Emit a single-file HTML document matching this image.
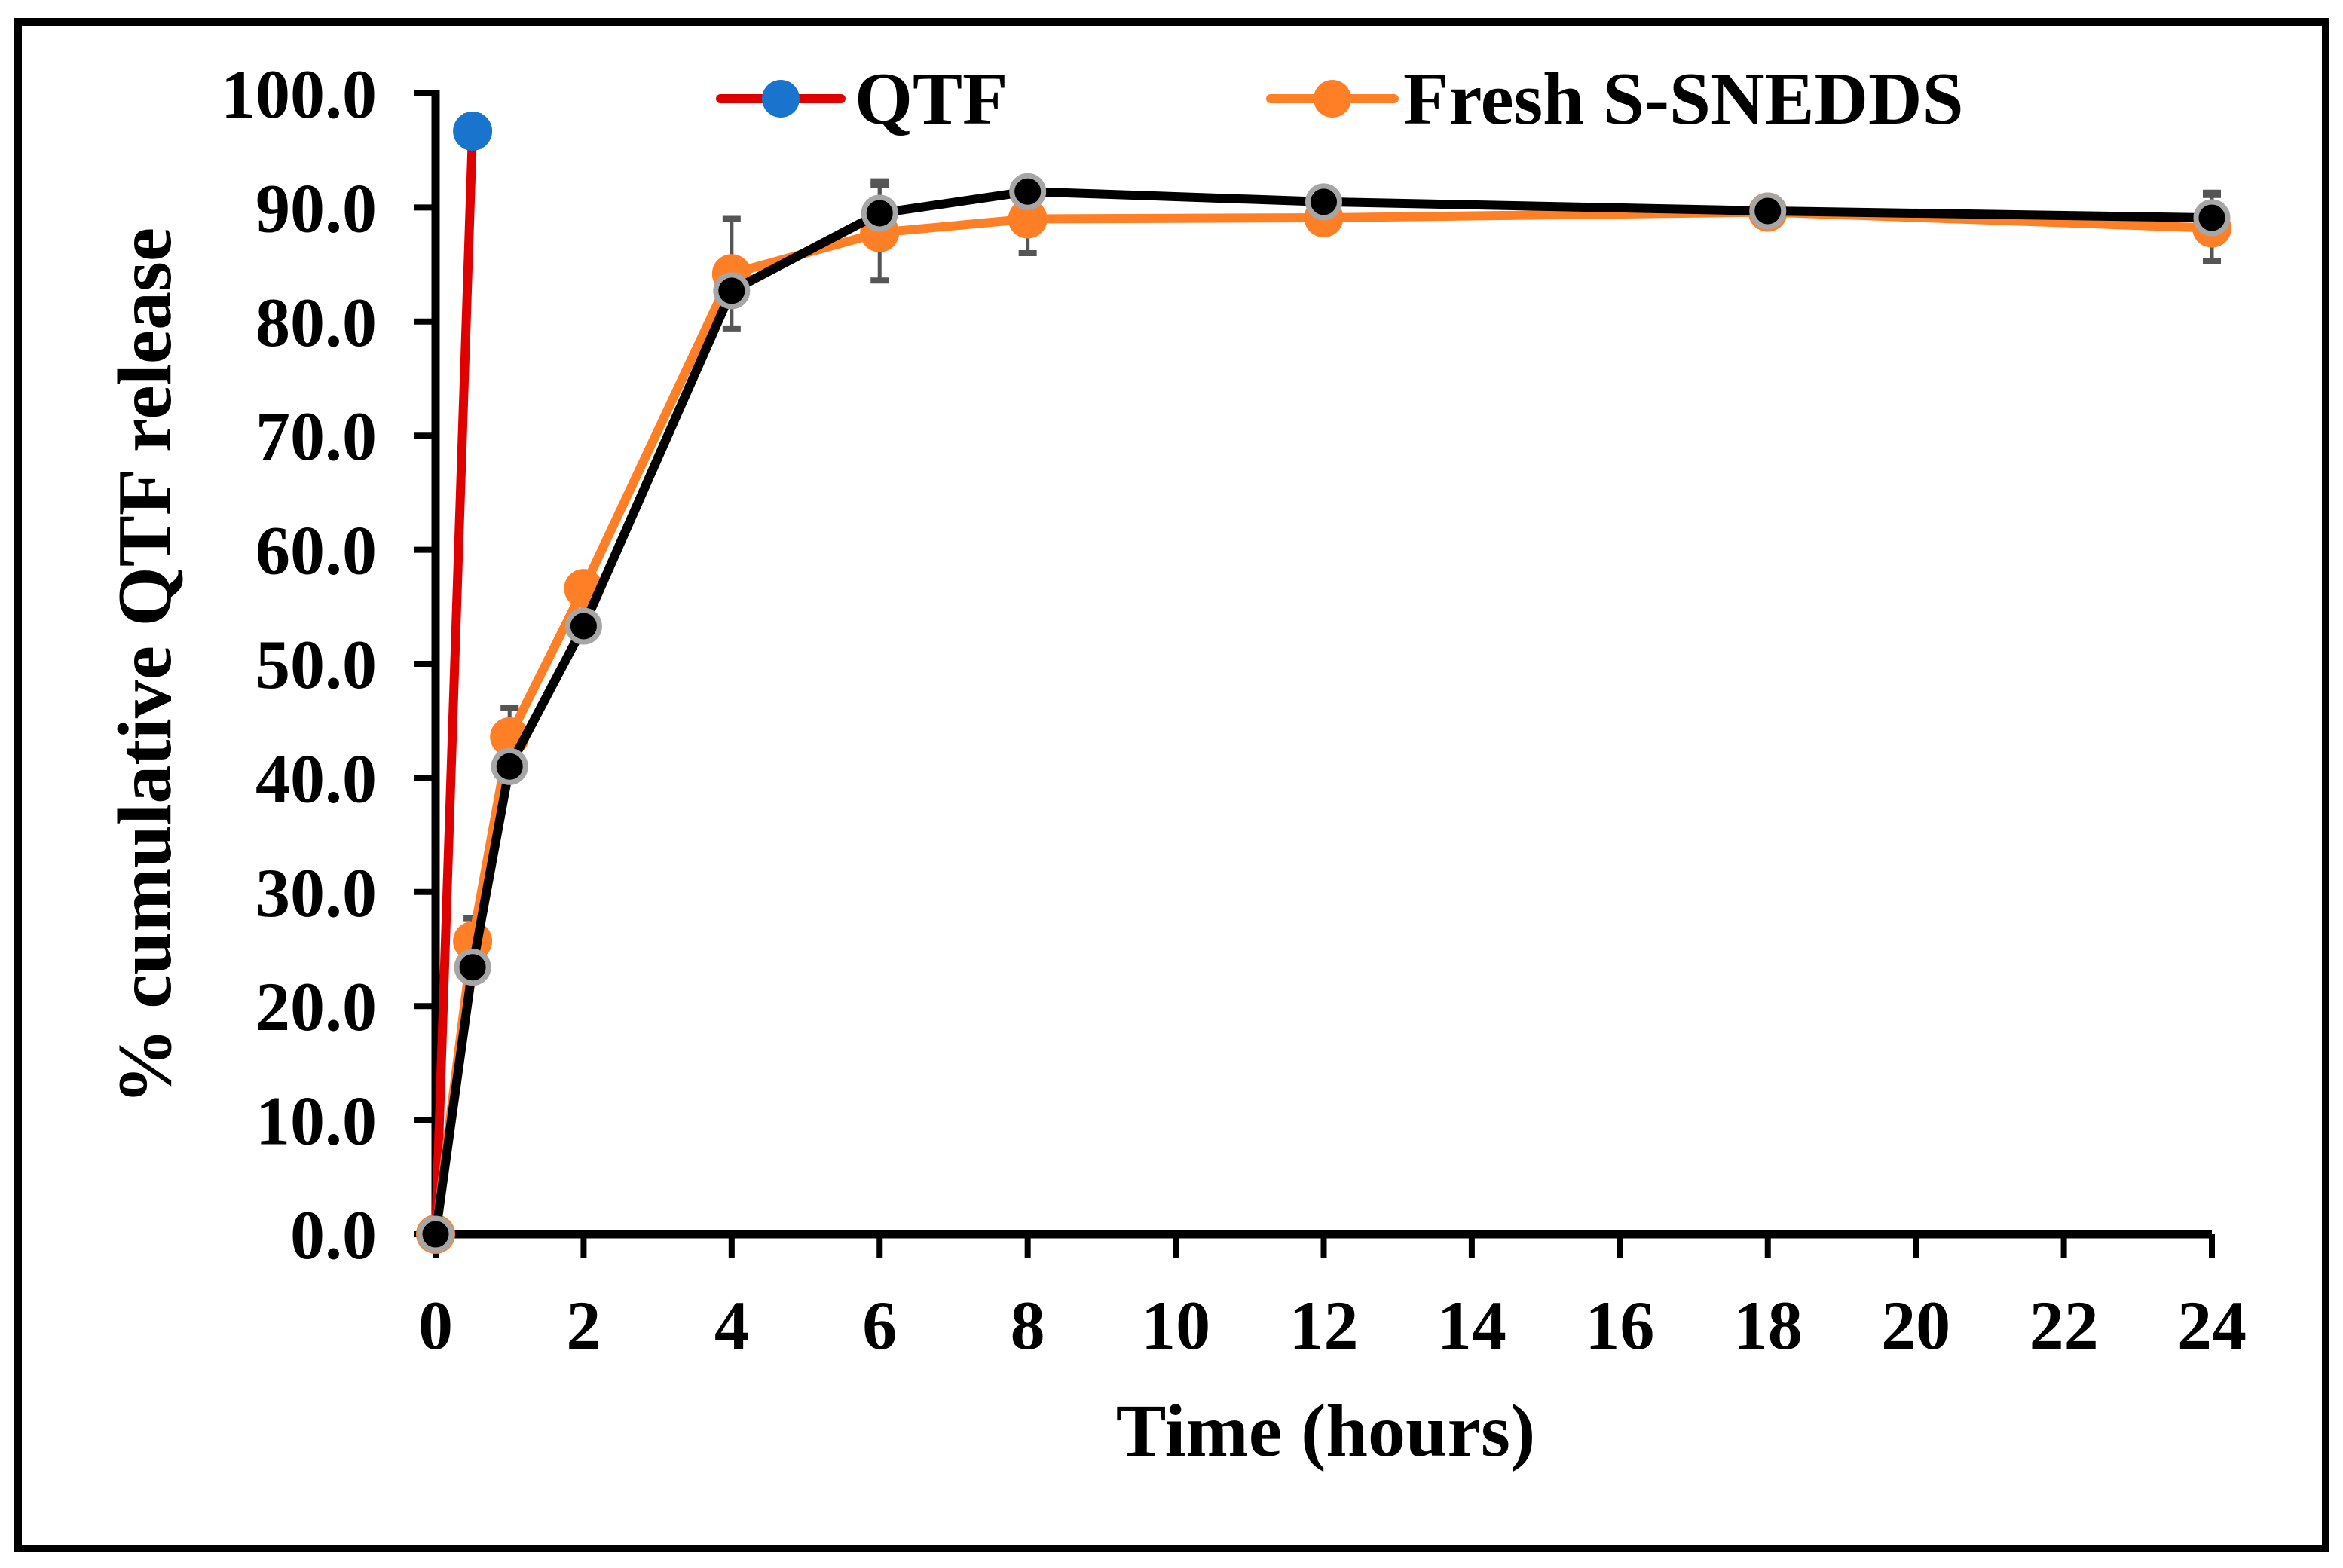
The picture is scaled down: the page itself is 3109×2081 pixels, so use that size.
<!DOCTYPE html>
<html><head><meta charset="utf-8"><style>
html,body{margin:0;padding:0;background:#fff;}
svg{display:block;}
text{font-family:"Liberation Serif",serif;font-weight:bold;fill:#000;}
</style></head><body>
<svg id="chart" width="3109" height="2081" viewBox="0 0 3109 2081" xmlns="http://www.w3.org/2000/svg">
<rect x="24" y="29" width="3062" height="2026" fill="#fff" stroke="#000" stroke-width="10"/>
<g id="axes"></g><g id="series"></g>
<text transform="translate(226,884) rotate(-90)" text-anchor="middle" font-size="102">% cumulative QTF release</text>
<text x="1759" y="1932" text-anchor="middle" font-size="100">Time (hours)</text>
<g>
<line x1="956" y1="131" x2="1116" y2="131" stroke="#e00000" stroke-width="12" stroke-linecap="round"/>
<circle cx="1036" cy="131" r="25" fill="#1874cd"/>
<text x="1134" y="164" font-size="99">QTF</text>
<line x1="1686" y1="131" x2="1850" y2="131" stroke="#ff7f27" stroke-width="12" stroke-linecap="round"/>
<circle cx="1768" cy="131" r="25" fill="#ff7f27"/>
<text x="1862" y="164" font-size="99">Fresh S-SNEDDS</text>
</g>
</svg>
<script>
const xTicks=[0,2,4,6,8,10,12,14,16,18,20,22,24];
const yTicks=[0,10,20,30,40,50,60,70,80,90,100];
const qtfTimes=[0,0.5];
const qtfValues=[0,96.7];
const qtfErr=[0,1.3];
const times=[0,0.5,1,2,4,6,8,12,18,24];
const freshValues=[0,25.7,43.6,56.6,84.2,87.8,89.0,89.1,89.6,88.2];
const freshErr=[0,2.0,2.5,0.5,4.8,4.2,3.0,0.5,0.6,2.9];
const storedValues=[0,23.4,41.0,53.3,82.7,89.5,91.4,90.5,89.7,89.1];
const storedErr=[0,0.5,0.5,0.5,0.5,2.8,0.5,0.5,0.5,2.2];

const X0=578,X1=2935,Y0=1638,Y1=124;
const sx=v=>X0+(X1-X0)*v/24;
const sy=v=>Y0-(Y0-Y1)*v/100;
const NS="http://www.w3.org/2000/svg";
function mk(parent,tag,attrs){const e=document.createElementNS(NS,tag);for(const k in attrs)e.setAttribute(k,attrs[k]);parent.appendChild(e);return e;}
const axes=document.getElementById('axes'),ser=document.getElementById('series');

yTicks.forEach(t=>{
  const l=mk(axes,'line',{x1:X0-28,x2:X0,y1:sy(t),y2:sy(t),stroke:'#000','stroke-width':8});
  
  
  const tx=mk(axes,'text',{x:500,y:sy(t)+32,'text-anchor':'end','font-size':92});
  tx.textContent=t.toFixed(1);
  
  
});
xTicks.forEach(t=>{
  const l=mk(axes,'line',{x1:sx(t),x2:sx(t),y1:Y0,y2:Y0+32,stroke:'#000','stroke-width':8});
  
  
  const tx=mk(axes,'text',{x:sx(t),y:1790,'text-anchor':'middle','font-size':92});
  tx.textContent=t;
  
  
});
const ya=mk(axes,'line',{x1:X0,x2:X0,y1:Y1-4,y2:Y0+6,stroke:'#000','stroke-width':11});


const xa=mk(axes,'line',{x1:X0-6,x2:X1,y1:Y0,y2:Y0,stroke:'#000','stroke-width':11});



function errBars(ts,vs,es,name){
  ts.forEach((t,i)=>{if(!es[i])return;
    const g=mk(ser,'g',{stroke:'#555','stroke-width':5});
    
    
    mk(g,'line',{x1:sx(t),x2:sx(t),y1:sy(vs[i]-es[i]),y2:sy(vs[i]+es[i])});
    mk(g,'line',{x1:sx(t)-12,x2:sx(t)+12,y1:sy(vs[i]-es[i]),y2:sy(vs[i]-es[i]),'stroke-width':8});
    mk(g,'line',{x1:sx(t)-12,x2:sx(t)+12,y1:sy(vs[i]+es[i]),y2:sy(vs[i]+es[i]),'stroke-width':8});
  });
}
function line(ts,vs,color,name){
  const p=mk(ser,'polyline',{points:ts.map((t,i)=>sx(t)+','+sy(vs[i])).join(' '),fill:'none',stroke:color,'stroke-width':12,'stroke-linejoin':'round'});
  
  
}
function markers(ts,vs,fill,stroke,name){
  ts.forEach((t,i)=>{
    const c=mk(ser,'circle',{cx:sx(t),cy:sy(vs[i]),r:stroke?21:26,fill:fill,stroke:stroke||'none','stroke-width':stroke?7:0});
    
    
  });
}
errBars(qtfTimes,qtfValues,qtfErr,'qtf');
errBars(times,freshValues,freshErr,'fresh');
errBars(times,storedValues,storedErr,'stored');
line(qtfTimes,qtfValues,'#e00000','qtf');
line(times,freshValues,'#ff7f27','fresh');
markers(times,freshValues,'#ff7f27',null,'fresh');
line(times,storedValues,'#000','stored');
markers(times,storedValues,'#000','#a6a6a6','stored');
markers(qtfTimes.slice(1),qtfValues.slice(1),'#1874cd',null,'qtf');
</script>
</body></html>
